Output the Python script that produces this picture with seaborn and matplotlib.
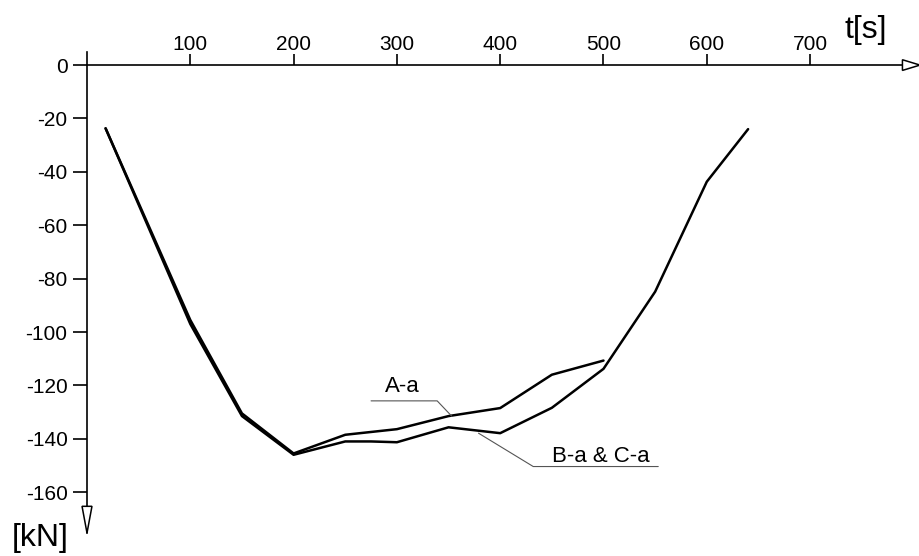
import matplotlib
matplotlib.use("Agg")
import matplotlib.pyplot as plt
from matplotlib.patches import Polygon
import seaborn as sns
import pandas as pd

# time [s] and axial force [kN]
t_a = [18, 100, 150, 200, 250, 300, 350, 400, 450, 500]
f_a = [-23.7, -95.5, -130.5, -145.5, -138.5, -136.4, -131.5, -128.5, -116.0, -110.7]

t_bc = [18, 100, 150, 200, 250, 275, 300, 350, 400, 450, 500, 550, 600, 640]
f_bc = [-23.7, -97.0, -131.5, -146.0, -141.0, -141.0, -141.3, -135.7, -137.9, -128.4, -113.8, -84.9, -43.7, -24.0]

x_ticks = [100, 200, 300, 400, 500, 600, 700]
y_ticks = [0, -20, -40, -60, -80, -100, -120, -140, -160]

df = pd.concat([
    pd.DataFrame({"t": t_a, "F": f_a, "series": "A-a"}),
    pd.DataFrame({"t": t_bc, "F": f_bc, "series": "B-a & C-a"}),
])

sns.set_style("white")
plt.rcParams["font.family"] = ["Liberation Sans", "DejaVu Sans"]
plt.rcParams["axes.unicode_minus"] = False
plt.rcParams["text.color"] = "black"
plt.rcParams["xtick.color"] = "black"
plt.rcParams["ytick.color"] = "black"

fig = plt.figure(figsize=(9.2, 5.56), dpi=100)
ax = fig.add_axes([87 / 920, 23 / 556, 833 / 920, 481 / 556])

sns.lineplot(data=df, x="t", y="F", hue="series", palette=["black", "black"],
             estimator=None, sort=False, legend=False, lw=1.8, ax=ax)

ax.set_xlim(0, 806.4)
ax.set_ylim(-175.3, 4.9)
ax.set_xlabel("")
ax.set_ylabel("")

# axes drawn like an engineering sketch: x axis at zero, force pointing down
for s in ["bottom", "right"]:
    ax.spines[s].set_visible(False)
ax.spines["top"].set_position(("data", 0))
for s in ["top", "left"]:
    ax.spines[s].set_linewidth(1.2)
    ax.spines[s].set_color("black")

ax.xaxis.tick_top()
ax.set_xticks(x_ticks)
ax.set_yticks(y_ticks)
ax.tick_params(axis="x", direction="out", length=8, width=1.2, pad=0, labelsize=15)
ax.tick_params(axis="y", direction="out", length=10, width=1.2, pad=4, labelsize=15, left=True)

# open arrow heads at the ends of the axes
x0, x1 = ax.get_xlim()
y0, y1 = ax.get_ylim()
ax.add_patch(Polygon([[x1 - 17, 2.0], [x1, 0], [x1 - 17, -2.0]], closed=True,
                     fc="white", ec="black", lw=1.1, clip_on=False, zorder=5))
ax.add_patch(Polygon([[-4.8, y0 + 10], [0, y0], [4.8, y0 + 10]], closed=True,
                     fc="white", ec="black", lw=1.1, clip_on=False, zorder=5))

# series labels with leader lines
ax.plot([275, 339, 353], [-125.8, -125.8, -131.5], color="#555555", lw=0.8)
ax.text(305, -120.5, "A-a", fontsize=16, ha="center", va="center")
ax.plot([379, 432, 553], [-137.9, -150.4, -150.4], color="#555555", lw=0.8)
ax.text(497, -146.5, "B-a & C-a", fontsize=16, ha="center", va="center")

fig.text(866 / 920, 1 - 30 / 556, "t[s]", fontsize=23, ha="center", va="center")
fig.text(40 / 920, 1 - 538 / 556, "[kN]", fontsize=23, ha="center", va="center")

fig.savefig("out.png", dpi=100)
